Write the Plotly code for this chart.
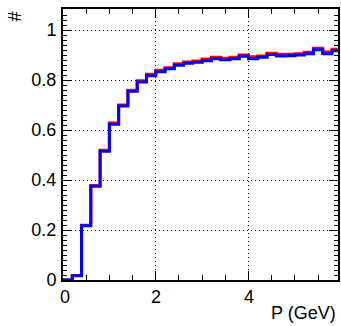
import plotly.graph_objects as go

bin_edges = [round(0.2 * i, 1) for i in range(31)]
blue_vals = [0.0, 0.017, 0.217, 0.375, 0.515, 0.623, 0.696, 0.755, 0.792, 0.817,
             0.833, 0.845, 0.859, 0.867, 0.871, 0.877, 0.885, 0.881, 0.885, 0.895,
             0.885, 0.891, 0.902, 0.896, 0.897, 0.900, 0.905, 0.921, 0.905, 0.917]
red_vals = [0.0, 0.018, 0.219, 0.378, 0.519, 0.628, 0.700, 0.759, 0.797, 0.823,
            0.839, 0.849, 0.865, 0.872, 0.876, 0.884, 0.891, 0.887, 0.891, 0.900,
            0.893, 0.896, 0.907, 0.903, 0.903, 0.905, 0.911, 0.927, 0.912, 0.923]
x_ticks = [0, 2, 4]
x_ticklabels = ["0", "2", "4"]
x_title = "P (GeV)"
y_title = "#"

fig = go.Figure()
for vals, col in [(red_vals, "#ff0000"), (blue_vals, "#0000ff")]:
    fig.add_trace(go.Scatter(
        x=bin_edges, y=vals + [vals[-1]], mode="lines",
        line=dict(shape="hv", color=col, width=3), showlegend=False,
        hoverinfo="skip"))

font = dict(family="Liberation Sans, Arial, sans-serif", size=18, color="black")
axis_common = dict(showline=True, linecolor="black", linewidth=2, mirror="ticks",
                   ticks="inside", tickcolor="black", showgrid=True,
                   gridcolor="black", griddash="1px,3px", gridwidth=1,
                   zeroline=False, tickfont=font)

annotations = [
    dict(text=lab, xref="x", yref="paper", x=xv, y=-0.018, xshift=2 if xv == 0 else 0,
         xanchor="center", yanchor="top", showarrow=False, font=font)
    for xv, lab in zip(x_ticks, x_ticklabels)
]
annotations += [
    dict(text=x_title, xref="paper", yref="paper", x=1.0, y=-0.078,
         xanchor="right", yanchor="top", showarrow=False, font=font),
    dict(text=y_title, xref="paper", yref="paper", x=-0.173, y=1.0,
         xanchor="center", yanchor="top", showarrow=False, textangle=-90, font=font),
]

fig.update_layout(
    width=341, height=326, margin=dict(l=63, r=1, t=9, b=46),
    plot_bgcolor="white", paper_bgcolor="white", font=font,
    xaxis=dict(range=[0, 5.93], tickvals=x_ticks, showticklabels=False,
               ticklen=9, tickwidth=1,
               minor=dict(dtick=0.5, ticks="inside", ticklen=5, tickcolor="black", showgrid=False),
               **axis_common),
    yaxis=dict(range=[0, 1.084], tickvals=[0, 0.2, 0.4, 0.6, 0.8, 1.0],
               ticktext=["0", "0.2", "0.4", "0.6", "0.8", "1"],
               ticklen=9, tickwidth=1, ticklabelstandoff=1,
               minor=dict(dtick=0.02, ticks="inside", ticklen=4, tickcolor="black", showgrid=False),
               **axis_common),
    annotations=annotations,
)
fig.write_html("out.html")
